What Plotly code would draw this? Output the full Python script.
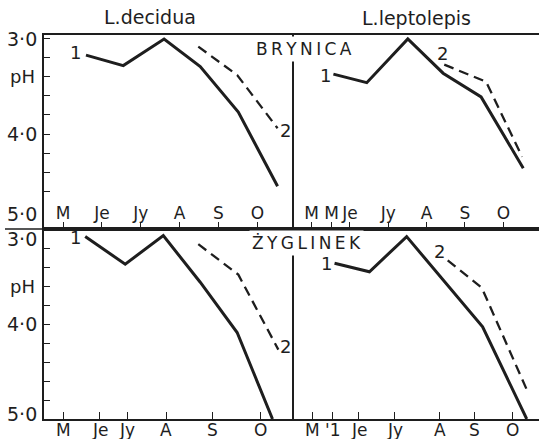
import plotly.graph_objects as go

# ---------------- data (x in month units: 5 = May ... 10 = October) ----------------
# BRYNICA, L. decidua
tl_x1 = [5.59, 6.55, 7.60, 8.53, 9.51, 10.52]
tl_y1 = [3.17, 3.28, 3.00, 3.29, 3.77, 4.55]
tl_x2 = [8.48, 9.48, 10.52]
tl_y2 = [3.08, 3.38, 3.94]
# BRYNICA, L. leptolepis
tr_x1 = [5.57, 6.44, 7.51, 8.43, 9.42, 10.52]
tr_y1 = [3.37, 3.46, 3.00, 3.36, 3.61, 4.36]
tr_x2 = [8.46, 9.55, 10.49]
tr_y2 = [3.27, 3.45, 4.24]
# ZYGLINEK, L. decidua
bl_x1 = [5.57, 6.60, 7.58, 8.53, 9.48, 10.39]
bl_y1 = [3.08, 3.37, 3.07, 3.56, 4.09, 5.00]
bl_x2 = [8.48, 9.51, 10.54]
bl_y2 = [3.16, 3.48, 4.27]
# ZYGLINEK, L. leptolepis
br_x1 = [5.60, 6.51, 7.48, 8.47, 9.46, 10.61]
br_y1 = [3.36, 3.45, 3.08, 3.56, 4.03, 5.00]
br_x2 = [8.55, 9.44, 10.61]
br_y2 = [3.33, 3.62, 4.69]

# tick labels
tl_tickvals = [5, 6, 7, 8, 9, 10]
tl_ticktext = ["M", "Je", "Jy", "A", "S", "O"]
tr_tickvals = [5, 5.52, 6, 7, 8, 9, 10]
tr_ticktext = ["M", "M", "Je", "Jy", "A", "S", "O"]
bl_tickvals = [5, 5.95, 6.65, 7.65, 8.84, 10.08]
bl_ticktext = ["M", "Je", "Jy", "A", "S", "O"]
br_tickvals = [5.03, 5.55, 6.23, 7.17, 8.34, 9.26, 10.25]
br_ticktext = ["M", "'1", "Je", "Jy", "A", "S", "O"]

INK = "#1e1e1e"
FONT = "DejaVu Sans"

fig = go.Figure()

panels = [
    ("x", "y", tl_x1, tl_y1, tl_x2, tl_y2),
    ("x2", "y2", tr_x1, tr_y1, tr_x2, tr_y2),
    ("x3", "y3", bl_x1, bl_y1, bl_x2, bl_y2),
    ("x4", "y4", br_x1, br_y1, br_x2, br_y2),
]
for xa, ya, x1, y1, x2, y2 in panels:
    fig.add_trace(go.Scatter(x=x1, y=y1, mode="lines", xaxis=xa, yaxis=ya,
                             line=dict(color=INK, width=3), showlegend=False,
                             hoverinfo="skip"))
    fig.add_trace(go.Scatter(x=x2, y=y2, mode="lines", xaxis=xa, yaxis=ya,
                             line=dict(color=INK, width=2.3, dash="10px,6px"),
                             showlegend=False, hoverinfo="skip"))

XL = 44 / 539
XM = 293.5 / 539
Y_TOP = 1 - 35 / 439
Y_MID = 1 - 229 / 439
Y_BOT = 1 - 419 / 439

common_x = dict(showgrid=False, zeroline=False, showline=True, linecolor=INK,
                linewidth=1.5, mirror=True, ticks="inside", ticklen=7,
                tickcolor=INK, tickwidth=1.2,
                tickfont=dict(family=FONT, size=17, color=INK))
common_y = dict(showgrid=False, zeroline=False, showline=True, linecolor=INK,
                linewidth=1.5, showticklabels=False)

fig.update_layout(
    width=539, height=439,
    margin=dict(l=0, r=0, t=0, b=0),
    paper_bgcolor="white", plot_bgcolor="white",
    xaxis=dict(domain=[XL, XM], range=[4.51, 10.93], anchor="y",
               tickvals=tl_tickvals, ticktext=tl_ticktext,
               ticklabelposition="inside", **common_x),
    xaxis2=dict(domain=[XM, 1.0], range=[4.53, 10.93], anchor="y2",
                tickvals=tr_tickvals, ticktext=tr_ticktext,
                ticklabelposition="inside", **common_x),
    xaxis3=dict(domain=[XL, XM], range=[4.51, 10.93], anchor="y3",
                tickvals=bl_tickvals, showticklabels=False, **common_x),
    xaxis4=dict(domain=[XM, 1.0], range=[4.53, 10.93], anchor="y4",
                tickvals=br_tickvals, showticklabels=False, **common_x),
    yaxis=dict(domain=[Y_MID, Y_TOP], range=[5.0, 2.958], anchor="x",
               ticks="inside", ticklen=6, tickcolor=INK, dtick=0.2, tick0=3.0,
               **common_y),
    yaxis2=dict(domain=[Y_MID, Y_TOP], range=[5.0, 2.958], anchor="x2",
                ticks="", **common_y),
    yaxis3=dict(domain=[Y_BOT, Y_MID], range=[5.0, 3.0], anchor="x3",
                ticks="inside", ticklen=6, tickcolor=INK, dtick=0.2, tick0=3.0,
                **common_y),
    yaxis4=dict(domain=[Y_BOT, Y_MID], range=[5.0, 3.0], anchor="x4",
                ticks="", **common_y),
)

ann = []
def txt(text, x, y, xref="paper", yref="paper", size=17, bg=None, **kw):
    d = dict(text=text, x=x, y=y, xref=xref, yref=yref, showarrow=False,
             font=dict(family=FONT, size=size, color=INK),
             xanchor="center", yanchor="middle")
    if bg:
        d["bgcolor"] = bg
    d.update(kw)
    ann.append(d)

# column titles
txt("L.decidua", 150 / 539, 1 - 17 / 439, size=19)
txt("L.leptolepis", 416 / 539, 1 - 18 / 439, size=19)
# site labels
TS = "\u2009"
txt(TS.join("BRYNICA"), 304 / 539, 1 - 49 / 439, size=17, bg="white", borderpad=2)
txt(TS.join("ŻYGLINEK"), 306 / 539, 1 - 243 / 439, size=17, bg="white", borderpad=2)

# y tick labels (left)
yl = 22 / 539
txt("3·0", yl, 3.0, yref="y", size=19)
txt("pH", yl, 3.4, yref="y", size=18)
txt("4·0", yl, 4.0, yref="y", size=19)
txt("5·0", yl, 5.0, yref="y", size=19, yshift=15)
txt("3·0", yl, 3.0, yref="y3", size=19, yshift=-10)
txt("pH", yl, 3.6, yref="y3", size=18)
txt("4·0", yl, 4.0, yref="y3", size=19)
txt("5·0", yl, 5.0, yref="y3", size=19, yshift=5)

# x tick labels of the bottom panels (below the axis)
ybl = 1 - 430 / 439
for v, t in zip(bl_tickvals, bl_ticktext):
    txt(t, v, ybl, xref="x3", size=17)
for v, t in zip(br_tickvals, br_ticktext):
    txt(t, v, ybl, xref="x4", size=17)

# curve labels
txt("1", 5.31, 3.14, xref="x", yref="y", size=18)
txt("2", 10.72, 3.96, xref="x", yref="y", size=18)
txt("1", 5.37, 3.38, xref="x2", yref="y2", size=18)
txt("2", 8.42, 3.15, xref="x2", yref="y2", size=18)
txt("1", 5.31, 3.09, xref="x3", yref="y3", size=18)
txt("2", 10.72, 4.24, xref="x3", yref="y3", size=18)
txt("1", 5.39, 3.36, xref="x4", yref="y4", size=18)
txt("2", 8.34, 3.24, xref="x4", yref="y4", size=18)

fig.update_layout(annotations=ann)

# divider extension to the left of the axis
fig.add_shape(type="line", xref="paper", yref="paper", x0=5 / 539, x1=XL,
              y0=Y_MID, y1=Y_MID, line=dict(color=INK, width=1.5))

fig.write_html("out.html",
               config={"displayModeBar": False},
               post_script="document.body.style.margin='0px';"
                           "document.body.style.overflow='hidden';")
